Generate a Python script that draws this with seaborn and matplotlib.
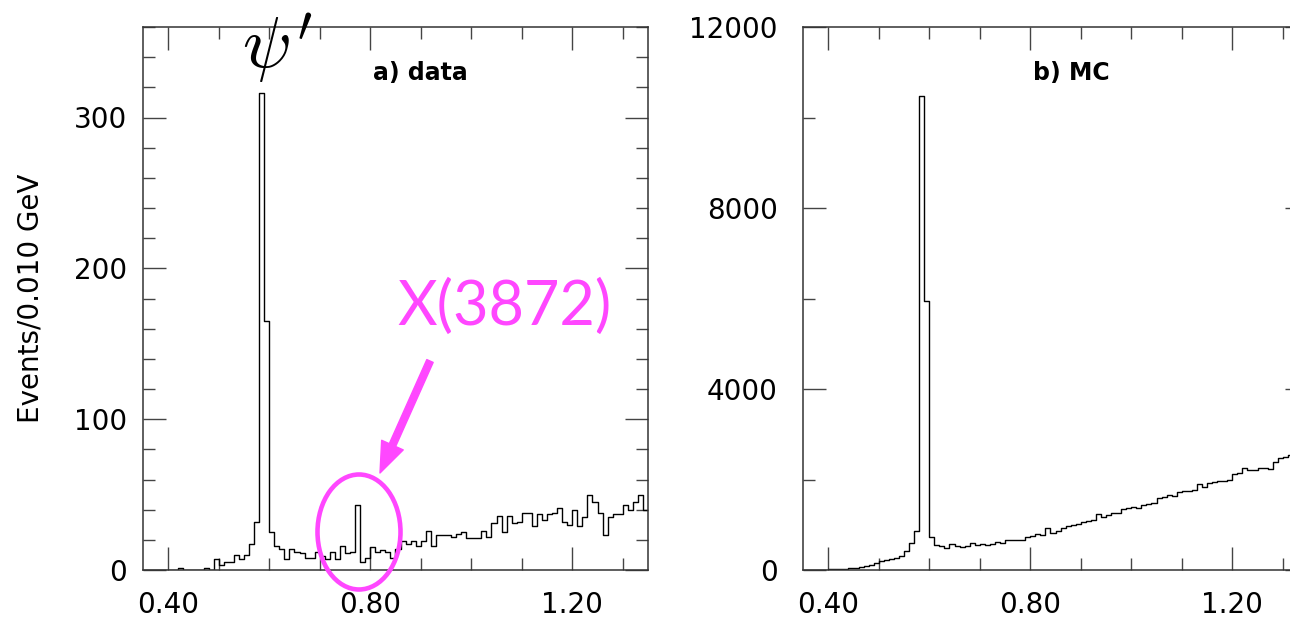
import numpy as np
import pandas as pd
import matplotlib
matplotlib.use("Agg")
import matplotlib.pyplot as plt
import seaborn as sns
from matplotlib.patches import Ellipse, FancyArrowPatch
from matplotlib.ticker import MultipleLocator, FixedLocator, FormatStrFormatter

# ---------------- data ----------------
mass_min, mass_max, n_bins = 0.35, 1.35, 100

data_counts = [
    0, 0, 0, 0, 0, 0, 0, 1, 0, 0,
    0, 0, 1, 0, 7, 3, 5, 5, 10, 7,
    10, 17, 32, 316, 165, 25, 16, 14, 7, 14,
    12, 11, 8, 8, 12, 9, 7, 12, 7, 16,
    11, 12, 43, 5, 8, 15, 12, 13, 12, 8,
    14, 19, 17, 19, 16, 19, 26, 16, 23, 23,
    23, 22, 24, 25, 21, 21, 21, 26, 22, 31,
    36, 25, 36, 31, 32, 38, 38, 29, 37, 33,
    37, 38, 41, 32, 30, 40, 29, 35, 50, 45,
    38, 23, 35, 37, 37, 43, 40, 45, 50, 40,
]

mc_counts = [
    0, 0, 0, 5, 8, 12, 15, 22, 30, 38,
    50, 65, 80, 120, 145, 195, 225, 245, 275, 310,
    410, 590, 870, 10470, 5935, 737, 547, 531, 490, 571,
    531, 514, 531, 596, 547, 580, 547, 580, 612, 596,
    653, 661, 661, 661, 735, 759, 800, 776, 922, 816,
    857, 939, 963, 996, 1020, 1061, 1086, 1102, 1241, 1167,
    1208, 1249, 1265, 1347, 1363, 1396, 1363, 1429, 1469, 1486,
    1592, 1608, 1649, 1633, 1714, 1739, 1755, 1771, 1894, 1837,
    1918, 1935, 1959, 1976, 2000, 2122, 2147, 2261, 2204, 2204,
    2245, 2261, 2229, 2392, 2465, 2490, 2531, 2570, 2620, 2660,
]

x_major = [0.40, 0.80, 1.20]
y_major_data = [0, 100, 200, 300]
y_major_mc = [0, 4000, 8000, 12000]
panel_labels = ["a) data", "b) MC"]
y_title = "Events/0.010 GeV"
annot_text = "X(3872)"

edges = np.linspace(mass_min, mass_max, n_bins + 1)
centers = 0.5 * (edges[:-1] + edges[1:])
df = pd.DataFrame({"mass": centers, "data": data_counts, "mc": mc_counts})

# ---------------- style ----------------
sns.set_style("white")
plt.rcParams["font.family"] = ["DejaVu Sans"]
plt.rcParams["mathtext.fontset"] = "cm"
plt.rcParams["text.color"] = "black"
plt.rcParams["axes.labelcolor"] = "black"
plt.rcParams["xtick.color"] = "black"
plt.rcParams["ytick.color"] = "black"

W, H = 1290, 621
fig = plt.figure(figsize=(W / 100, H / 100), dpi=100)
ax1 = fig.add_axes([143 / W, 51 / H, 505 / W, 543 / H])
ax2 = fig.add_axes([803 / W, 51 / H, 505 / W, 543 / H])

for ax, col in ((ax1, "data"), (ax2, "mc")):
    sns.histplot(data=df, x="mass", weights=col, bins=list(edges), element="step",
                 fill=False, color="black", linewidth=1.0, ax=ax)
    ax.set_xlim(mass_min, mass_max)
    ax.set_xlabel("")
    ax.set_ylabel("")
    ax.xaxis.set_major_locator(FixedLocator(x_major))
    ax.xaxis.set_minor_locator(MultipleLocator(0.1))
    ax.xaxis.set_major_formatter(FormatStrFormatter("%.2f"))
    ax.tick_params(which="both", direction="in", top=True, right=True,
                   bottom=True, left=True, color="#444444", width=1.0,
                   labelcolor="black")
    ax.tick_params(which="major", length=16.5)
    ax.tick_params(which="minor", length=8.4)
    ax.tick_params(axis="x", which="major", pad=15, labelsize=20)
    for s in ax.spines.values():
        s.set_linewidth(1.1)
        s.set_color("#333333")
        s.set_visible(True)

ax1.set_ylim(0, 360)
ax1.yaxis.set_major_locator(FixedLocator(y_major_data))
ax1.yaxis.set_minor_locator(MultipleLocator(20))
ax1.tick_params(axis="y", which="major", pad=11.5, labelsize=20)

ax2.set_ylim(0, 12000)
ax2.yaxis.set_major_locator(FixedLocator(y_major_mc))
ax2.yaxis.set_minor_locator(MultipleLocator(2000))
ax2.tick_params(axis="y", which="major", pad=18, labelsize=20)

ax1.set_ylabel(y_title, fontsize=20, color="black")
ax1.yaxis.set_label_coords(-0.196, 0.5)

ax1.text(0.55, 0.915, panel_labels[0], transform=ax1.transAxes, ha="center",
         va="center", fontsize=17, fontweight="bold", color="black")
ax2.text(0.531, 0.915, panel_labels[1], transform=ax2.transAxes, ha="center",
         va="center", fontsize=17, fontweight="bold", color="black")

# psi' label
fig.text(266 / W, 1 - 50 / H, r"$\psi$", fontsize=52, ha="center", va="center",
         color="black")
fig.text(305 / W, 1 - 25 / H, r"$\prime$", fontsize=36, ha="center", va="center",
         color="black")

# X(3872) annotation
magenta = "#ff47ff"
fig.text(505 / W, 1 - 325 / H, annot_text, fontsize=44, family="Lato",
         color=magenta, ha="center", va="baseline")

arrow = FancyArrowPatch(posA=(430 / W, 1 - 361 / H), posB=(380 / W, 1 - 473 / H),
                        transform=fig.transFigure,
                        arrowstyle="simple,head_length=2.2,head_width=1.7,tail_width=0.5",
                        mutation_scale=10, color=magenta, shrinkA=0, shrinkB=0)
fig.add_artist(arrow)
ell = Ellipse((359 / W, 1 - 532 / H), 83 / W, 115 / H, transform=fig.transFigure,
              fill=False, edgecolor=magenta, linewidth=3.3)
fig.add_artist(ell)

fig.savefig("out.png", dpi=100)
